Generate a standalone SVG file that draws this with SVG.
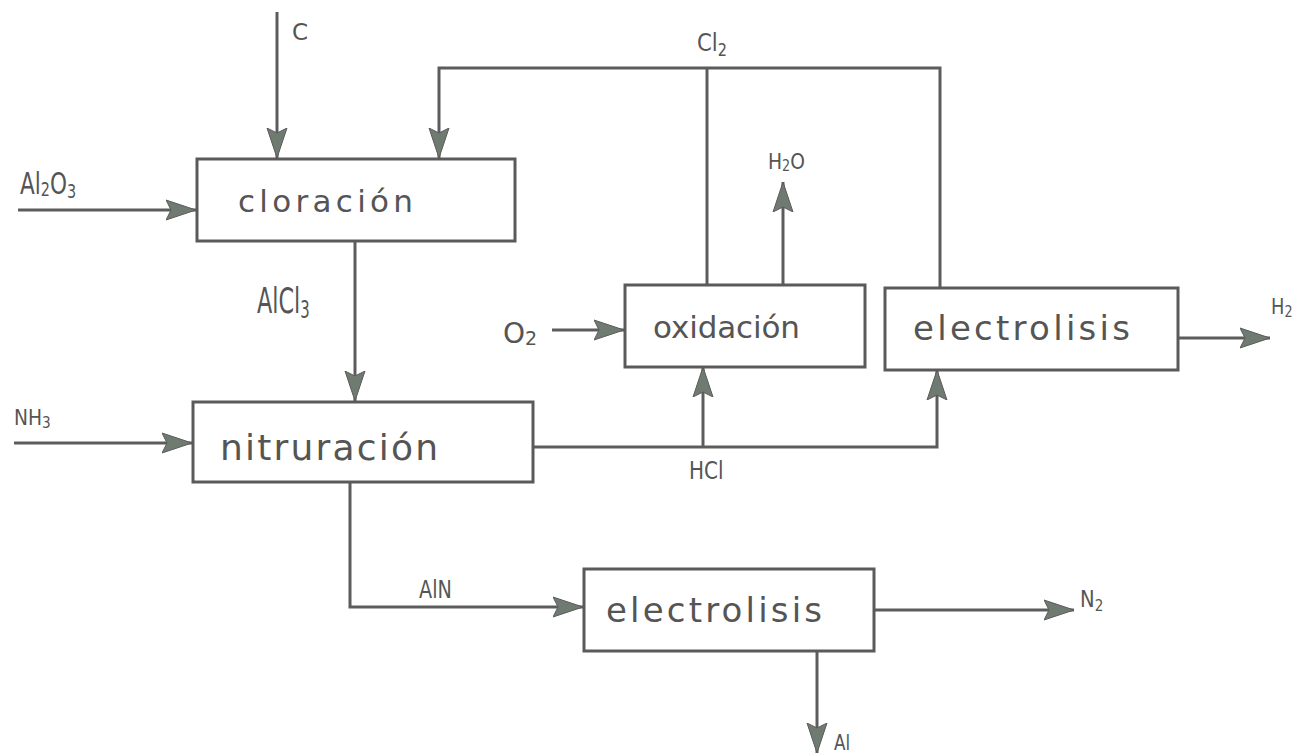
<svg xmlns="http://www.w3.org/2000/svg" width="1300" height="756" viewBox="0 0 1300 756">
<style>
.box{fill:#ffffff;stroke:#5a5a5a;stroke-width:3}
.ln{fill:none;stroke:#5c5c5c;stroke-width:3;stroke-linejoin:miter}
.arr{marker-end:url(#ah)}
.bt{font-family:"DejaVu Sans",sans-serif;fill:#555555}
.lb{font-family:"DejaVu Sans",sans-serif;fill:#555555}
</style>
<defs>
<marker id="ah" markerUnits="userSpaceOnUse" markerWidth="32" markerHeight="24" refX="30" refY="11" orient="auto">
<path d="M0,1 L30,11 L0,21 L5,11 Z" fill="#6f7a70" stroke="#5c5c5c" stroke-width="1"/>
</marker>
</defs>
<rect width="1300" height="756" fill="#ffffff"/>

<g id="connectors">
<path class="ln arr" d="M277,12 V158"/>
<path class="ln arr" d="M940,288 V68 H439 V158"/>
<path class="ln" d="M707,285 V68"/>
<path class="ln arr" d="M18,210 H196"/>
<path class="ln arr" d="M355,240 V401"/>
<path class="ln arr" d="M14,443 H192"/>
<path class="ln arr" d="M533,447 H937 V370"/>
<path class="ln arr" d="M703,447 V367"/>
<path class="ln arr" d="M552,330 H624"/>
<path class="ln arr" d="M783,285 V182"/>
<path class="ln arr" d="M1178,338 H1270"/>
<path class="ln arr" d="M350,482 V607 H583"/>
<path class="ln arr" d="M874,610 H1074"/>
<path class="ln arr" d="M817,651 V753"/>
</g>

<g id="cloracion">
<rect class="box" x="197" y="159" width="318" height="82"/>
<text class="bt" x="238" y="212" font-size="31" textLength="175" lengthAdjust="spacing">cloración</text>
</g>

<g id="nitruracion">
<rect class="box" x="193" y="402" width="340" height="80"/>
<text class="bt" x="220" y="460" font-size="36" textLength="218" lengthAdjust="spacing">nitruración</text>
</g>

<g id="oxidacion">
<rect class="box" x="625" y="285" width="240" height="82"/>
<text class="bt" x="653" y="338" font-size="31" textLength="147" lengthAdjust="spacing">oxidación</text>
</g>

<g id="electrolisis1">
<rect class="box" x="885" y="288" width="293" height="82"/>
<text class="bt" x="913" y="340" font-size="34" textLength="217" lengthAdjust="spacing">electrolisis</text>
</g>

<g id="electrolisis2">
<rect class="box" x="584" y="569" width="290" height="82"/>
<text class="bt" x="606" y="622" font-size="34" textLength="216" lengthAdjust="spacing">electrolisis</text>
</g>

<g id="labels">
<text class="lb" x="292" y="40" font-size="23">C</text>
<text class="lb" transform="translate(697,51) scale(0.85,1)" font-size="25">Cl<tspan font-size="17" dy="5">2</tspan></text>
<text class="lb" transform="translate(20,194) scale(0.72,1)" font-size="30">Al<tspan font-size="20" dy="2">2</tspan><tspan dy="-2">O</tspan><tspan font-size="20" dy="4">3</tspan></text>
<text class="lb" transform="translate(257,313) scale(0.62,1)" font-size="36">AlCl<tspan font-size="24" dy="5">3</tspan></text>
<text class="lb" transform="translate(768,169) scale(0.85,1)" font-size="22">H<tspan font-size="15" dy="2">2</tspan><tspan dy="-2">O</tspan></text>
<text class="lb" x="503" y="343" font-size="28">O<tspan font-size="19" dy="2">2</tspan></text>
<text class="lb" transform="translate(1271,314) scale(0.85,1)" font-size="21">H<tspan font-size="15" dy="3">2</tspan></text>
<text class="lb" transform="translate(14,425) scale(0.85,1)" font-size="22">NH<tspan font-size="16" dy="3">3</tspan></text>
<text class="lb" transform="translate(689,479) scale(0.8,1)" font-size="25">HCl</text>
<text class="lb" transform="translate(419,598) scale(0.8,1)" font-size="24">AlN</text>
<text class="lb" transform="translate(1080,607) scale(0.85,1)" font-size="23">N<tspan font-size="16" dy="4">2</tspan></text>
<text class="lb" transform="translate(834,750) scale(0.8,1)" font-size="21">Al</text>
</g>
</svg>
